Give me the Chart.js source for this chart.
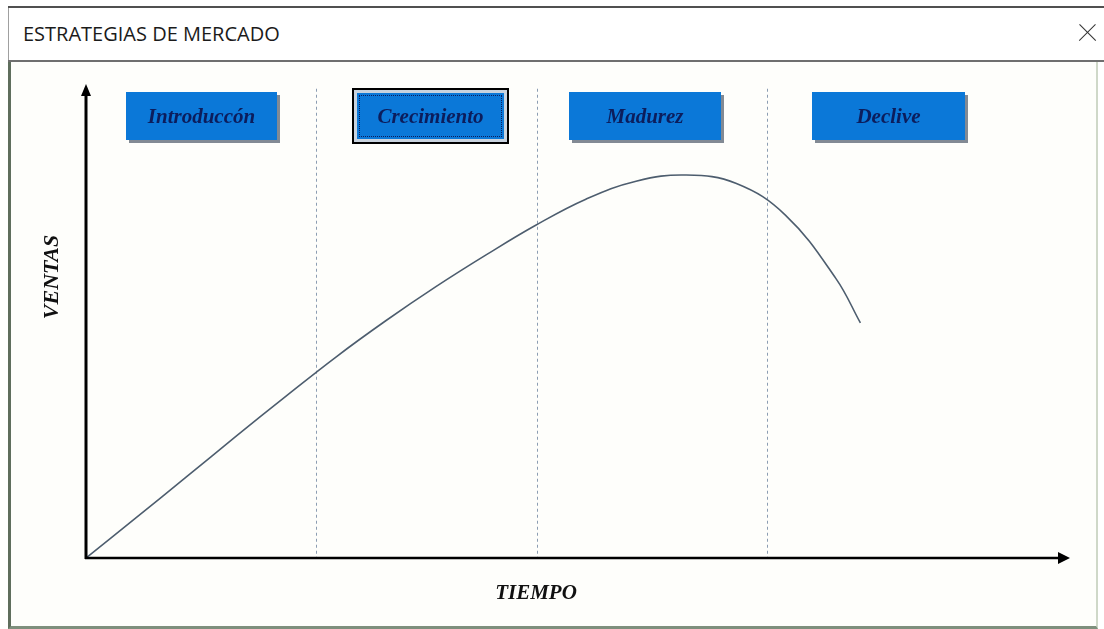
<!DOCTYPE html>
<html lang="es">
<head>
<meta charset="utf-8">
<script src="https://cdn.jsdelivr.net/npm/chart.js@4/dist/chart.umd.min.js"></script>
<style>
  html, body { margin:0; padding:0; background:#ffffff; }
  body { width:1104px; height:629px; position:relative; overflow:hidden; font-family:"Open Sans", sans-serif; }
  #topline { position:absolute; left:8px; top:6px; width:1096px; height:2px; background:#505050; }
  #titlebar { position:absolute; left:8px; top:8px; width:1096px; height:52px; background:#ffffff; border-left:1px solid #a0a0a0; box-sizing:border-box; }
  #title { position:absolute; left:23px; top:20px; font-family:"Open Sans", sans-serif; font-size:20px; line-height:28px; color:#1b1b1b; white-space:nowrap; }
  #sep { position:absolute; left:8px; top:60px; width:1096px; height:2px; background:#6f6f6f; }
  #content { position:absolute; left:8px; top:62px; width:1090px; height:567px; background:#fefefb; box-sizing:border-box;
             border-left:3px solid #5f6e5d; border-right:2px solid #cfd8c8; border-bottom:3px solid #7e8f7c; }
  .xl { position:absolute; left:1076px; top:32px; width:23px; height:1.4px; background:#333; }
  #x1 { transform:rotate(45deg); } #x2 { transform:rotate(-45deg); }
  #chart { position:absolute; left:0; top:0; }
  .btn { position:absolute; background:#0b78d8; box-shadow:3px 3px 0 #828a94; color:#0c1d5c;
         font-family:"Liberation Serif", "Times New Roman", serif; font-weight:bold; font-style:italic; font-size:21px;
         display:flex; align-items:center; justify-content:center; box-sizing:border-box; }
  #b2 { border:2px solid #000; background:#c9d3de; box-shadow:none; }
  #b2 .in { position:absolute; left:3px; top:3px; right:3px; bottom:3px; background:#0b78d8; outline:1px dotted #0c1d5c; outline-offset:-3px;
            display:flex; align-items:center; justify-content:center; }
</style>
</head>
<body>
<div id="topline"></div>
<div id="titlebar"></div>
<div id="title">ESTRATEGIAS DE MERCADO</div>
<div id="sep"></div>
<div class="xl" id="x1"></div><div class="xl" id="x2"></div>
<div id="content"></div>
<canvas id="chart" width="1104" height="629"></canvas>
<div class="btn" id="b1" style="left:126px;top:92px;width:151px;height:48px;">Introduccón</div>
<div class="btn" id="b2" style="left:352px;top:88px;width:157px;height:56px;"><div class="in">Crecimiento</div></div>
<div class="btn" id="b3" style="left:569px;top:92px;width:152px;height:48px;">Madurez</div>
<div class="btn" id="b4" style="left:812px;top:92px;width:153px;height:48px;">Declive</div>
<script>
// ---- data ----
const tiempo = [0, 5.1, 10.2, 15.2, 20.3, 25.4, 30.5, 35.6, 40.7, 45.7, 50.8, 55.9, 61.0, 66.1, 71.1, 76.2, 78.7];
const ventas = [0, 8.5, 17.1, 25.6, 34.1, 42.4, 50.1, 57.3, 64.0, 70.2, 75.7, 79.5, 80.8, 79.0, 72.3, 59.0, 49.6];
const fases = ['Introduccón', 'Crecimiento', 'Madurez', 'Declive'];
const limitesFase = [23.4, 45.8, 69.2];
const tituloX = 'TIEMPO';
const tituloY = 'VENTAS';

const ejesPlugin = {
  id: 'ejes',
  beforeDatasetsDraw(chart) {
    const {ctx, scales: {x, y}} = chart;
    const y0 = y.getPixelForValue(0), yTop = y.getPixelForValue(99);
    ctx.save();
    ctx.strokeStyle = 'rgba(120,140,165,0.85)';
    ctx.lineWidth = 1;
    ctx.setLineDash([3, 3]);
    limitesFase.forEach(v => {
      const px = Math.round(x.getPixelForValue(v)) + 0.5;
      ctx.beginPath(); ctx.moveTo(px, yTop); ctx.lineTo(px, y0); ctx.stroke();
    });
    ctx.restore();
  },
  afterDatasetsDraw(chart) {
    const {ctx, scales: {x, y}} = chart;
    const x0 = x.getPixelForValue(0), x1 = x.getPixelForValue(100);
    const y0 = y.getPixelForValue(0), y1 = y.getPixelForValue(100);
    ctx.save();
    ctx.strokeStyle = '#000'; ctx.fillStyle = '#000';
    ctx.lineWidth = 3;
    ctx.beginPath(); ctx.moveTo(x0, y0 + 1); ctx.lineTo(x0, y1 + 8); ctx.stroke();
    ctx.beginPath(); ctx.moveTo(x0, y1); ctx.lineTo(x0 - 5, y1 + 12); ctx.lineTo(x0 + 5, y1 + 12); ctx.closePath(); ctx.fill();
    ctx.lineWidth = 2.5;
    ctx.beginPath(); ctx.moveTo(x0 - 1, y0); ctx.lineTo(x1 - 8, y0); ctx.stroke();
    ctx.beginPath(); ctx.moveTo(x1, y0); ctx.lineTo(x1 - 12, y0 - 6); ctx.lineTo(x1 - 12, y0 + 6); ctx.closePath(); ctx.fill();
    ctx.font = 'italic bold 21px "Liberation Serif", "Times New Roman", serif';
    ctx.fillStyle = '#111';
    ctx.textAlign = 'center'; ctx.textBaseline = 'middle';
    ctx.fillText(tituloX, (x0 + x1) / 2 - 42, y0 + 36);
    ctx.font = 'italic bold 22px "Liberation Serif", "Times New Roman", serif';
    ctx.translate(x0 - 34, (y0 + y1) / 2 - 44);
    ctx.rotate(-Math.PI / 2);
    ctx.fillText(tituloY, 0, 0);
    ctx.restore();
  }
};

new Chart(document.getElementById('chart'), {
  type: 'line',
  data: {
    datasets: [{
      data: tiempo.map((t, i) => ({x: t, y: ventas[i]})),
      borderColor: '#4d5d6e',
      borderWidth: 1.6,
      pointRadius: 0,
      fill: false,
      tension: 0.4
    }]
  },
  options: {
    responsive: false,
    animation: false,
    layout: { padding: { left: 86, right: 34, top: 84, bottom: 71 } },
    plugins: { legend: { display: false }, tooltip: { enabled: false } },
    scales: {
      x: { type: 'linear', min: 0, max: 100, display: false },
      y: { type: 'linear', min: 0, max: 100, display: false }
    }
  },
  plugins: [ejesPlugin]
});
</script>
</body>
</html>
